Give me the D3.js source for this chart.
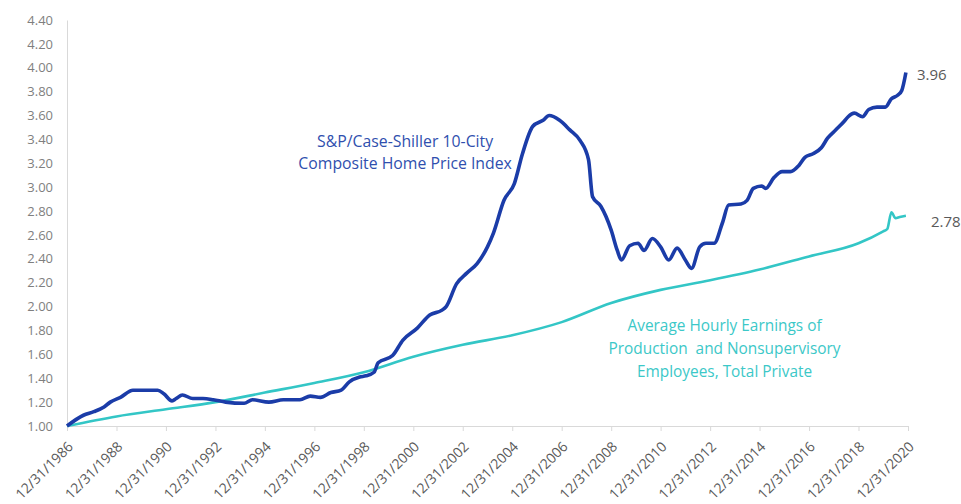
<!DOCTYPE html>
<html>
<head>
<meta charset="utf-8">
<script src="https://cdn.jsdelivr.net/npm/d3@7"></script>
<style>
  body { margin: 0; background: #fff; }
  #grafico { width: 961px; height: 504px; }
  text { font-family: "Open Sans", sans-serif; }
</style>
</head>
<body>
<div id="grafico"></div>
<script>
// Datos (indice = 1.00 en 12/1986)
const fechasCS = ["1986-12","1987-08","1988-01","1988-06","1988-09","1989-02","1989-08","1990-08","1990-11","1991-03",
  "1991-05","1991-08","1992-01","1992-06","1992-11","1993-05","1994-02","1994-06","1995-02","1995-09",
  "1996-05","1996-10","1997-03","1997-08","1998-01","1998-05","1998-10","1999-01","1999-05","1999-07",
  "2000-02","2000-07","2001-02","2001-08","2002-02","2002-04","2002-09","2003-02","2003-07","2003-12",
  "2004-03","2004-08","2005-01","2005-05","2005-10","2006-03","2006-06","2006-11","2007-04","2007-09",
  "2008-01","2008-03","2008-07","2008-12","2009-03","2009-05","2009-09","2010-01","2010-04","2010-08",
  "2010-12","2011-04","2011-08","2011-12","2012-03","2012-07","2012-10","2013-02","2013-06","2013-09",
  "2014-03","2014-06","2014-09","2015-01","2015-03","2015-07","2015-11","2016-03","2016-07","2016-10",
  "2017-02","2017-06","2017-09","2018-01","2018-05","2018-07","2018-10","2019-02","2019-05","2019-09",
  "2020-01","2020-04","2020-07","2020-09","2020-11"];
const valoresCS = [1.00,1.09,1.12,1.16,1.20,1.24,1.30,1.30,1.27,1.21,
  1.23,1.26,1.23,1.23,1.22,1.20,1.19,1.22,1.20,1.22,
  1.22,1.25,1.24,1.28,1.30,1.37,1.41,1.42,1.45,1.53,
  1.59,1.72,1.82,1.93,1.97,2.00,2.19,2.28,2.36,2.50,
  2.62,2.89,3.03,3.28,3.51,3.56,3.60,3.56,3.48,3.39,
  3.23,2.92,2.84,2.64,2.47,2.39,2.51,2.53,2.47,2.57,
  2.50,2.39,2.49,2.39,2.32,2.50,2.53,2.53,2.70,2.85,
  2.86,2.89,2.99,3.01,2.99,3.08,3.13,3.13,3.18,3.25,
  3.28,3.33,3.41,3.48,3.55,3.59,3.62,3.59,3.65,3.67,
  3.67,3.74,3.77,3.81,3.96];

const fechasAHE = ["1986-12","1988-12","1990-12","1992-12","1994-12","1996-12","1998-12","2000-12","2002-12","2004-12",
  "2006-12","2008-12","2010-12","2012-12","2014-12","2016-12","2018-12","2019-12","2020-02","2020-04",
  "2020-06","2020-08","2020-11"];
const valoresAHE = [1.00,1.08,1.14,1.20,1.28,1.36,1.45,1.58,1.68,1.76,
  1.87,2.03,2.14,2.22,2.31,2.42,2.53,2.63,2.65,2.79,
  2.74,2.75,2.76];

const ticksY = [1.00,1.20,1.40,1.60,1.80,2.00,2.20,2.40,2.60,2.80,3.00,3.20,3.40,3.60,3.80,4.00,4.20,4.40];
const aniosX = [1986,1988,1990,1992,1994,1996,1998,2000,2002,2004,2006,2008,2010,2012,2014,2016,2018,2020];

const etiquetaCS = ["S&P/Case-Shiller 10-City", "Composite Home Price Index"];
const etiquetaAHE = ["Average Hourly Earnings of", "Production  and Nonsupervisory", "Employees, Total Private"];

const colorCS = "#1b3ca8";
const colorAHE = "#33c6c6";

const margin = { top: 20, right: 53, bottom: 78, left: 67 };
const width = 961 - margin.left - margin.right;
const height = 504 - margin.top - margin.bottom;

const parseMes = d3.timeParse("%Y-%m");
// cada mes se dibuja a fin de mes
const finMes = s => d3.timeDay.offset(d3.timeMonth.offset(parseMes(s), 1), -1);

const serieCS = fechasCS.map((f, i) => ({ fecha: finMes(f), valor: valoresCS[i] }));
const serieAHE = fechasAHE.map((f, i) => ({ fecha: finMes(f), valor: valoresAHE[i] }));

const svg = d3.select("#grafico")
    .append("svg")
    .attr("width", 961)
    .attr("height", 504)
    .append("g")
    .attr("transform", `translate(${margin.left},${margin.top})`);

const x = d3.scaleTime()
    .domain([new Date(1986, 11, 31), new Date(2020, 11, 31)])
    .range([0, width]);

const y = d3.scaleLinear()
    .domain([1.0, 4.4])
    .range([height, 0]);

// Eje Y
const ejeY = svg.append("g")
    .attr("class", "y-axis")
    .call(d3.axisLeft(y).tickValues(ticksY).tickFormat(d3.format(".2f")).tickSize(0).tickPadding(14));
ejeY.select(".domain").attr("stroke", "#d9d9d9");
ejeY.selectAll("text")
    .style("font-size", "13px")
    .attr("fill", "#7f7f7f");

// Eje X
const ejeX = svg.append("g")
    .attr("class", "x-axis")
    .attr("transform", `translate(0,${height})`)
    .call(d3.axisBottom(x)
        .tickValues(aniosX.map(a => new Date(a, 11, 31)))
        .tickFormat(d3.timeFormat("%m/%d/%Y"))
        .tickSizeInner(5).tickSizeOuter(0));
ejeX.select(".domain").attr("stroke", "#d9d9d9");
ejeX.selectAll(".tick line").attr("stroke", "#d9d9d9");
ejeX.selectAll("text")
    .style("font-size", "14px")
    .attr("fill", "#595959")
    .attr("text-anchor", "end")
    .attr("y", 0)
    .attr("dy", "0.35em")
    .attr("transform", "translate(3,18) rotate(-45)");

// Lineas
const linea = d3.line()
    .x(d => x(d.fecha))
    .y(d => y(d.valor))
    .curve(d3.curveMonotoneX);

svg.append("path")
    .datum(serieAHE)
    .attr("fill", "none")
    .attr("stroke", colorAHE)
    .attr("stroke-width", 2.6)
    .attr("stroke-linejoin", "round")
    .attr("d", linea);

svg.append("path")
    .datum(serieCS)
    .attr("fill", "none")
    .attr("stroke", colorCS)
    .attr("stroke-width", 3.6)
    .attr("stroke-linejoin", "round")
    .attr("d", linea);

// Valores finales
const ultCS = serieCS[serieCS.length - 1];
const ultAHE = serieAHE[serieAHE.length - 1];
svg.append("text")
    .attr("x", x(ultCS.fecha) + 11)
    .attr("y", y(ultCS.valor) + 2)
    .attr("dy", "0.35em")
    .style("font-size", "15px")
    .attr("fill", "#595959")
    .text(d3.format(".2f")(ultCS.valor));
svg.append("text")
    .attr("x", x(ultAHE.fecha) + 25)
    .attr("y", y(ultAHE.valor) + 6)
    .attr("dy", "0.35em")
    .style("font-size", "15px")
    .attr("fill", "#595959")
    .text("2.78");

// Anotaciones
svg.append("text")
    .attr("text-anchor", "middle")
    .attr("fill", "#2f4fae")
    .style("font-size", "15.8px")
    .selectAll("tspan")
    .data(etiquetaCS)
    .enter()
    .append("tspan")
    .attr("x", x(new Date(2000, 8, 1)))
    .attr("y", (d, i) => y(3.38) + i * 22)
    .attr("dy", "0.35em")
    .text(d => d);

svg.append("text")
    .attr("text-anchor", "middle")
    .attr("fill", "#3cc8c8")
    .style("font-size", "15.4px")
    .style("white-space", "pre")
    .selectAll("tspan")
    .data(etiquetaAHE)
    .enter()
    .append("tspan")
    .attr("x", x(new Date(2013, 7, 1)))
    .attr("y", (d, i) => y(1.84) + i * 23)
    .attr("dy", "0.35em")
    .text(d => d);
</script>
</body>
</html>
